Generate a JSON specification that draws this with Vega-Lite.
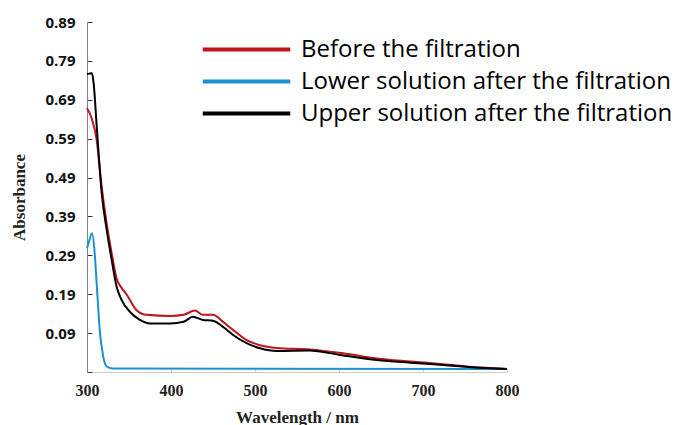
{
  "$schema": "https://vega.github.io/schema/vega-lite/v6.json",
  "autosize": "none",
  "padding": {"left": 87, "top": 22, "right": 171, "bottom": 53},
  "width": 420,
  "height": 350,
  "background": "white",
  "config": {"view": {"stroke": null}},
  "data": {
    "values": [
      {"wl": 300, "a": 0.668, "s": "Before the filtration"},
      {"wl": 305.6, "a": 0.642, "s": "Before the filtration"},
      {"wl": 311.5, "a": 0.587, "s": "Before the filtration"},
      {"wl": 317.5, "a": 0.466, "s": "Before the filtration"},
      {"wl": 323.5, "a": 0.37, "s": "Before the filtration"},
      {"wl": 329.4, "a": 0.295, "s": "Before the filtration"},
      {"wl": 335.3, "a": 0.23, "s": "Before the filtration"},
      {"wl": 341, "a": 0.207, "s": "Before the filtration"},
      {"wl": 347, "a": 0.19, "s": "Before the filtration"},
      {"wl": 359, "a": 0.149, "s": "Before the filtration"},
      {"wl": 371, "a": 0.137, "s": "Before the filtration"},
      {"wl": 399, "a": 0.134, "s": "Before the filtration"},
      {"wl": 415, "a": 0.137, "s": "Before the filtration"},
      {"wl": 428.6, "a": 0.148, "s": "Before the filtration"},
      {"wl": 438, "a": 0.137, "s": "Before the filtration"},
      {"wl": 450, "a": 0.137, "s": "Before the filtration"},
      {"wl": 462, "a": 0.119, "s": "Before the filtration"},
      {"wl": 474, "a": 0.098, "s": "Before the filtration"},
      {"wl": 490, "a": 0.072, "s": "Before the filtration"},
      {"wl": 506, "a": 0.059, "s": "Before the filtration"},
      {"wl": 526, "a": 0.052, "s": "Before the filtration"},
      {"wl": 565, "a": 0.048, "s": "Before the filtration"},
      {"wl": 605, "a": 0.038, "s": "Before the filtration"},
      {"wl": 645, "a": 0.025, "s": "Before the filtration"},
      {"wl": 685, "a": 0.017, "s": "Before the filtration"},
      {"wl": 724, "a": 0.01, "s": "Before the filtration"},
      {"wl": 764, "a": 0.002, "s": "Before the filtration"},
      {"wl": 800, "a": -0.002, "s": "Before the filtration"},
      {"wl": 300, "a": 0.308, "s": "Lower solution after the filtration"},
      {"wl": 303, "a": 0.33, "s": "Lower solution after the filtration"},
      {"wl": 306, "a": 0.347, "s": "Lower solution after the filtration"},
      {"wl": 309, "a": 0.3, "s": "Lower solution after the filtration"},
      {"wl": 311.5, "a": 0.218, "s": "Lower solution after the filtration"},
      {"wl": 313.5, "a": 0.15, "s": "Lower solution after the filtration"},
      {"wl": 315.5, "a": 0.09, "s": "Lower solution after the filtration"},
      {"wl": 317.5, "a": 0.055, "s": "Lower solution after the filtration"},
      {"wl": 319.4, "a": 0.029, "s": "Lower solution after the filtration"},
      {"wl": 323.5, "a": 0.004, "s": "Lower solution after the filtration"},
      {"wl": 330, "a": -0.001, "s": "Lower solution after the filtration"},
      {"wl": 800, "a": -0.002, "s": "Lower solution after the filtration"},
      {"wl": 300, "a": 0.756, "s": "Upper solution after the filtration"},
      {"wl": 306, "a": 0.758, "s": "Upper solution after the filtration"},
      {"wl": 308, "a": 0.73, "s": "Upper solution after the filtration"},
      {"wl": 311.5, "a": 0.624, "s": "Upper solution after the filtration"},
      {"wl": 317.5, "a": 0.45, "s": "Upper solution after the filtration"},
      {"wl": 323.5, "a": 0.355, "s": "Upper solution after the filtration"},
      {"wl": 329.4, "a": 0.278, "s": "Upper solution after the filtration"},
      {"wl": 335.3, "a": 0.209, "s": "Upper solution after the filtration"},
      {"wl": 341.3, "a": 0.175, "s": "Upper solution after the filtration"},
      {"wl": 351, "a": 0.145, "s": "Upper solution after the filtration"},
      {"wl": 363, "a": 0.124, "s": "Upper solution after the filtration"},
      {"wl": 375, "a": 0.115, "s": "Upper solution after the filtration"},
      {"wl": 399, "a": 0.115, "s": "Upper solution after the filtration"},
      {"wl": 415, "a": 0.119, "s": "Upper solution after the filtration"},
      {"wl": 426, "a": 0.132, "s": "Upper solution after the filtration"},
      {"wl": 438, "a": 0.124, "s": "Upper solution after the filtration"},
      {"wl": 450, "a": 0.122, "s": "Upper solution after the filtration"},
      {"wl": 462, "a": 0.106, "s": "Upper solution after the filtration"},
      {"wl": 474, "a": 0.085, "s": "Upper solution after the filtration"},
      {"wl": 490, "a": 0.064, "s": "Upper solution after the filtration"},
      {"wl": 506, "a": 0.051, "s": "Upper solution after the filtration"},
      {"wl": 526, "a": 0.044, "s": "Upper solution after the filtration"},
      {"wl": 565, "a": 0.045, "s": "Upper solution after the filtration"},
      {"wl": 601, "a": 0.034, "s": "Upper solution after the filtration"},
      {"wl": 645, "a": 0.021, "s": "Upper solution after the filtration"},
      {"wl": 685, "a": 0.014, "s": "Upper solution after the filtration"},
      {"wl": 724, "a": 0.008, "s": "Upper solution after the filtration"},
      {"wl": 764, "a": 0.001, "s": "Upper solution after the filtration"},
      {"wl": 800, "a": -0.002, "s": "Upper solution after the filtration"}
    ]
  },
  "mark": {"type": "line", "strokeWidth": 2, "interpolate": "monotone"},
  "encoding": {
    "x": {
      "field": "wl",
      "type": "quantitative",
      "scale": {"domain": [300, 800], "nice": false, "zero": false},
      "axis": {
        "title": "Wavelength / nm",
        "values": [300, 400, 500, 600, 700, 800],
        "grid": false,
        "labelFlush": false,
        "domainColor": "#cccccc",
        "tickColor": "#cccccc",
        "tickSize": -4,
        "labelFont": "Liberation Serif",
        "labelFontWeight": "bold",
        "labelFontSize": 16,
        "labelColor": "#222222",
        "labelPadding": 14,
        "titleFont": "Liberation Serif",
        "titleFontWeight": "bold",
        "titleFontSize": 17,
        "titleColor": "#222222",
        "titlePadding": 11
      }
    },
    "y": {
      "field": "a",
      "type": "quantitative",
      "scale": {"domain": [-0.01, 0.89], "nice": false, "zero": false},
      "axis": {
        "title": "Absorbance",
        "values": [-0.01, 0.09, 0.19, 0.29, 0.39, 0.49, 0.59, 0.69, 0.79, 0.89],
        "labelExpr": "datum.value < 0 ? '' : format(datum.value, '.2f')",
        "grid": false,
        "domainColor": "#808080",
        "tickColor": "#333333",
        "tickSize": -5,
        "labelFont": "Open Sans",
        "labelFontWeight": "bold",
        "labelFontSize": 15,
        "labelColor": "#111111",
        "labelPadding": 17,
        "titleFont": "Liberation Serif",
        "titleFontWeight": "bold",
        "titleFontSize": 17,
        "titleColor": "#222222",
        "titlePadding": 16
      }
    },
    "color": {
      "field": "s",
      "type": "nominal",
      "scale": {
        "domain": ["Before the filtration", "Lower solution after the filtration", "Upper solution after the filtration"],
        "range": ["#c0141c", "#1e90d0", "#000000"]
      },
      "legend": {
        "title": null,
        "orient": "none",
        "legendX": 140,
        "legendY": 8,
        "symbolType": "M-2.5,0H2.5",
        "symbolSize": 1225,
        "symbolStrokeWidth": 4,
        "symbolFillColor": "transparent",
        "labelFont": "Open Sans",
        "labelFontSize": 24,
        "labelColor": "#000000",
        "labelOffset": 35,
        "labelLimit": 500,
        "rowPadding": -2
      }
    }
  }
}
